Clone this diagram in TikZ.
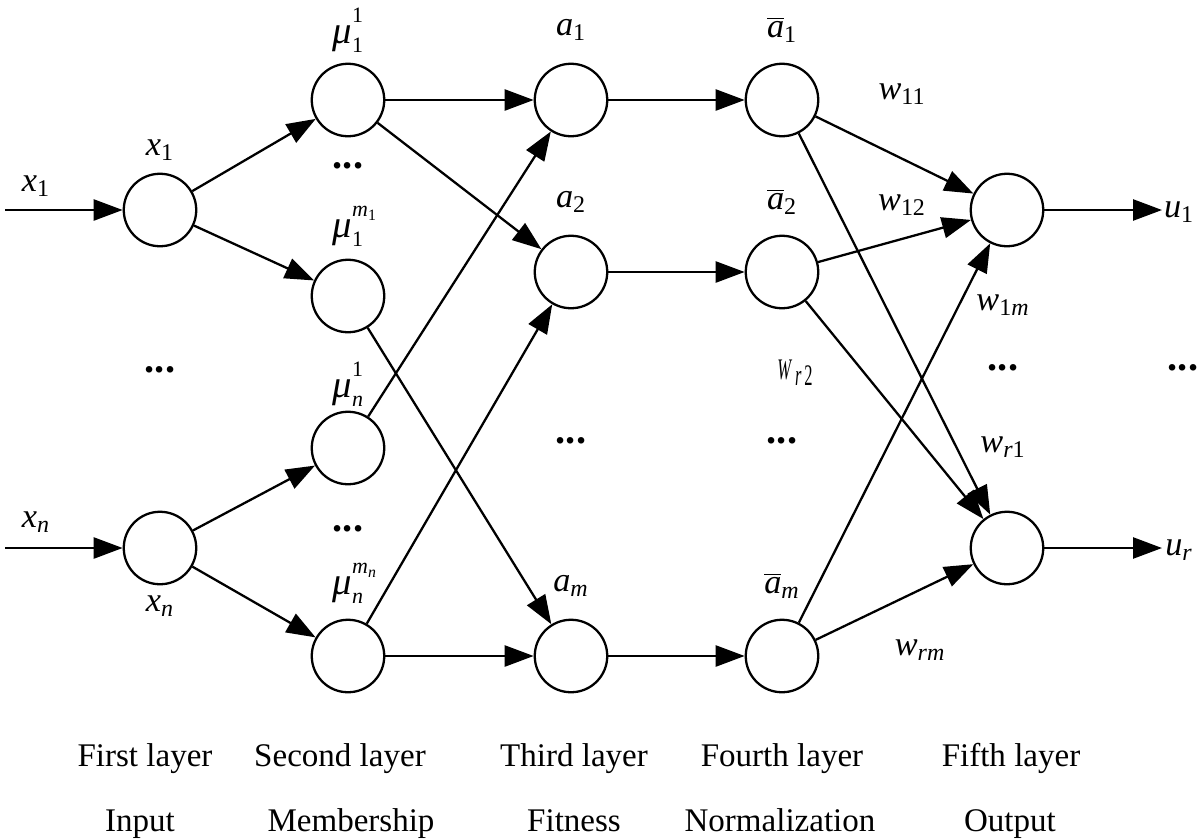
\documentclass[tikz,border=0pt]{standalone}
\usepackage{fontspec}
\setmainfont{Liberation Serif}
\usetikzlibrary{arrows.meta}
\newcommand\vsub[2]{\textit{#1}\textsubscript{#2}}
\newcommand\smallsz{\fontsize{12.5}{13}\selectfont}
\newcommand\tinysz{\fontsize{9}{9}\selectfont}
\newcommand\mulab[2]{{\fontsize{22}{24}\selectfont\textit{μ}}\rlap{\raisebox{1.35ex}{\smallsz #1}}\raisebox{-0.55ex}{\smallsz #2}}
\newcommand\msub[1]{\textit{m}\raisebox{-0.4ex}{\tinysz #1}}
\newcommand\abar[1]{$\overline{\mbox{\textit{a}}}$\textsubscript{#1}}
\begin{document}
\begin{tikzpicture}[x=0.02cm,y=-0.02cm,
  neuron/.style={circle,draw,line width=1.3pt,minimum size=1.45cm,inner sep=0pt},
  conn/.style={line width=1.3pt,-{Triangle[length=16.5pt,width=12pt]}},
  lab/.style={font=\fontsize{19.5}{22}\selectfont,inner sep=1pt},
  capt/.style={font=\fontsize{18.8}{22}\selectfont,inner sep=1pt,anchor=base},
  dotlab/.style={font=\fontsize{23}{24}\selectfont\bfseries,inner sep=1pt}]
\useasboundingbox (0,0) rectangle (1200,839);
% nodes
\node[neuron] (in1) at (160,210) {};
\node[neuron] (in2) at (160,548) {};
\node[neuron] (m11) at (348,100) {};
\node[neuron] (m1m) at (348,296) {};
\node[neuron] (mn1) at (348,448) {};
\node[neuron] (mnm) at (348,656) {};
\node[neuron] (f1) at (571,100) {};
\node[neuron] (f2) at (571,272) {};
\node[neuron] (fm) at (571,656) {};
\node[neuron] (n1) at (782,100) {};
\node[neuron] (n2) at (782,272) {};
\node[neuron] (nm) at (782,656) {};
\node[neuron] (o1) at (1007,210) {};
\node[neuron] (o2) at (1007,548) {};
\coordinate (s1) at (5,210);
\coordinate (s2) at (5,548);
\coordinate (e1) at (1162,210);
\coordinate (e2) at (1162,548);
% connectors
\draw[conn] (s1) -- (in1);
\draw[conn] (s2) -- (in2);
\draw[conn] (in1) -- (m11);
\draw[conn] (in1) -- (m1m);
\draw[conn] (in2) -- (mn1);
\draw[conn] (in2) -- (mnm);
\draw[conn] (m11) -- (f1);
\draw[conn] (m11) -- (f2);
\draw[conn] (m1m) -- (fm);
\draw[conn] (mn1) -- (f1);
\draw[conn] (mnm) -- (f2);
\draw[conn] (mnm) -- (fm);
\draw[conn] (f1) -- (n1);
\draw[conn] (f2) -- (n2);
\draw[conn] (fm) -- (nm);
\draw[conn] (n1) -- (o1);
\draw[conn] (n1) -- (o2);
\draw[conn] (n2) -- (o1);
\draw[conn] (n2) -- (o2);
\draw[conn] (nm) -- (o1);
\draw[conn] (nm) -- (o2);
\draw[conn] (o1) -- (e1);
\draw[conn] (o2) -- (e2);
% labels
\node[lab] (lx1) at (36,186) {\vsub{x}{1}};
\node[lab] (lxn) at (36,522) {\vsub{x}{\textit{n}}};
\node[lab] (lx1b) at (160,150) {\vsub{x}{1}};
\node[lab] (lxnb) at (160,606) {\vsub{x}{\textit{n}}};
\node[dotlab] (d0) at (160,370) {...};
\node[lab] (lm11) at (348,30) {\mulab{1}{1}};
\node[dotlab] (d1) at (348,166) {...};
\node[lab] (lm1m) at (348,226) {\mulab{\msub{1}}{1}};
\node[lab] (lmn1) at (348,384) {\mulab{1}{\textit{n}}};
\node[dotlab] (d2) at (348,529) {...};
\node[lab] (lmnm) at (348,583) {\mulab{\msub{\textit{n}}}{\textit{n}}};
\node[lab] (la1) at (571,30) {\vsub{a}{1}};
\node[lab] (la2) at (571,202) {\vsub{a}{2}};
\node[dotlab] (d3) at (571,441) {...};
\node[lab] (lam) at (571,586) {\vsub{a}{\textit{m}}};
\node[lab] (lb1) at (782,30) {\abar{1}};
\node[lab] (lb2) at (782,202) {\abar{2}};
\node[dotlab] (d4) at (782,441) {...};
\node[lab] (lbm) at (782,586) {\abar{\textit{m}}};
\node[lab] (w11) at (902,94) {\vsub{w}{11}};
\node[lab] (w12) at (902,205) {\vsub{w}{12}};
\node[lab] (w1m) at (1003,305) {\vsub{w}{1\textit{m}}};
\node[dotlab] (d5) at (1003,368) {...};
\node[lab] (wr1) at (1003,447) {\vsub{w}{\textit{r}1}};
\node[lab] (wrm) at (920,650) {\vsub{w}{\textit{rm}}};
\node[inner sep=0pt] (wr2) at (795,373) {\scalebox{0.55}[1]{\fontsize{17}{20}\selectfont\textit{W}\,\raisebox{-0.45ex}{\textit{r}\,2}}};
\node[dotlab] (d6) at (1183,368) {...};
\node[lab] (lu1) at (1179,212) {\vsub{u}{1}};
\node[lab] (lur) at (1179,550) {\vsub{u}{\textit{r}}};
% captions
\node[capt] (c1) at (145,766) {First layer};
\node[capt] (c1b) at (140,831) {Input};
\node[capt] (c2) at (340,766) {Second layer};
\node[capt] (c2b) at (351,831) {Membership};
\node[capt] (c3) at (574,766) {Third layer};
\node[capt] (c3b) at (574,831) {Fitness};
\node[capt] (c4) at (782,766) {Fourth layer};
\node[capt] (c4b) at (780,831) {Normalization};
\node[capt] (c5) at (1011,766) {Fifth layer};
\node[capt] (c5b) at (1010,831) {Output};
\end{tikzpicture}
\end{document}
